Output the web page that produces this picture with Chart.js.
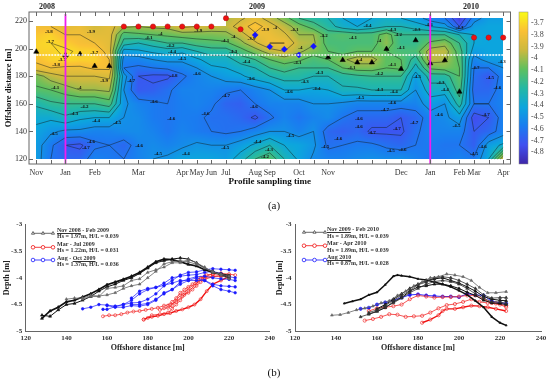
<!DOCTYPE html>
<html>
<head>
<meta charset="utf-8">
<script src="https://cdn.jsdelivr.net/npm/chart.js@4"></script>
<style>
    html, body { margin: 0; padding: 0; background: #fff; }
    body { width: 550px; height: 381px; position: relative; overflow: hidden; font-family: "Liberation Serif", serif; color: #222; }
    canvas { position: absolute; }
    .txt { position: absolute; white-space: nowrap; line-height: 1; }
    .yr { font-weight: bold; font-size: 8px; top: 3px; transform: translateX(-50%); }
    .lg { font-weight: bold; font-size: 6px; color: #333; }
    .panel { font-size: 11px; transform: translateX(-50%); color: #111; }
</style>
</head>
<body>
<canvas id="mapChart" style="left:0;top:0"></canvas>
<canvas id="barChart" style="left:515px;top:0"></canvas>
<canvas id="leftChart" style="left:0;top:210px"></canvas>
<canvas id="rightChart" style="left:275px;top:210px"></canvas>

<div class="txt yr" style="left:47px">2008</div>
<div class="txt yr" style="left:257px">2009</div>
<div class="txt yr" style="left:471px">2010</div>
<div class="txt panel" style="left:274px;top:200px">(a)</div>
<div class="txt panel" style="left:274px;top:367px">(b)</div>

<div class="txt lg" style="left:57px;top:227px"><u>Nov 2008</u> - Feb 2009</div>
<div class="txt lg" style="left:57px;top:233px">Hs = 1.97m, H/L = 0.039</div>
<div class="txt lg" style="left:57px;top:241px">Mar - Jul 2009</div>
<div class="txt lg" style="left:57px;top:247px">Hs = 1.22m, H/L = 0.031</div>
<div class="txt lg" style="left:57px;top:255px">Aug - <u>Oct 2009</u></div>
<div class="txt lg" style="left:57px;top:261px">Hs = 1.37m, H/L = 0.036</div>

<div class="txt lg" style="left:327px;top:226px"><u>Nov 2009</u> - Feb 2010</div>
<div class="txt lg" style="left:327px;top:233px">Hs = 1.89m, H/L = 0.039</div>
<div class="txt lg" style="left:327px;top:240px">Mar - Apr 2010</div>
<div class="txt lg" style="left:327px;top:247px">Hs = 1.89m, H/L = 0.039</div>
<div class="txt lg" style="left:327px;top:254px"><u>Aug 2010</u></div>
<div class="txt lg" style="left:327px;top:260px">Hs = 0.87m, H/L = 0.028</div>

<script>
// tick labels for the sampling axis (one survey per index)
const surveyLabels = ['Nov', '', 'Jan', '', 'Feb', '', '', 'Mar', '', '', 'Apr', 'May', 'Jun', 'Jul', '', 'Aug', 'Sep', '', 'Oct', '', 'Nov', '', '', '', '', 'Dec', '', 'Jan', '', 'Feb', 'Mar', '', 'Apr'];
const offshoreRows = [222, 216, 210, 204, 198, 192, 186, 180, 170, 160, 150, 140, 130, 120];
const contourLevels = [-3.7, -3.8, -3.9, -4, -4.1, -4.2, -4.3, -4.4, -4.5, -4.6, -4.7, -4.8];
const colorbarTicks = [-3.7, -3.8, -3.9, -4, -4.1, -4.2, -4.3, -4.4, -4.5, -4.6, -4.7, -4.8];
const parula = ['#3e26a8', '#4050f0', '#1a7cf0', '#0ca6dd', '#24b8a4', '#5fc05e', '#ccb93e', '#fac035', '#f9fb15'];

// depth, one list per offshore distance
const row222 = [null, null, null, null, null, null, null, null, null, null, null, null, null, -3.97, -3.92, -3.85, -3.95, -4.05, -4.2, -4.25, -4.3, -4.4, -4.45, -4.4, -4.35, -4.4, -4.45, -4.55, -4.6, -4.8, -4.55, -4.45, -4.45];
const row216 = [-3.8, -3.8, -3.85, -3.82, -3.9, -3.85, -3.98, -4, -3.98, -3.97, -3.88, -3.9, -3.93, -3.95, -3.85, -3.75, -3.85, -3.95, -4.05, -4.15, -4.25, -4.35, -4.4, -4.35, -4.3, -4.3, -4.35, -4.4, -4.45, -4.7, -4.45, -4.42, -4.42];
const row210 = [-3.75, -3.72, -3.8, -3.8, -3.85, -3.85, -4.15, -4.12, -4.1, -4.08, -4.05, -4.05, -4.05, -4.03, -3.95, -3.82, -3.82, -3.88, -4, -4, -4.15, -4.12, -4.15, -4.15, -4.05, -4.2, -4.2, -4.2, -4.2, -4.3, -4.4, -4.42, -4.42];
const row204 = [-3.72, -3.7, -3.73, -3.78, -3.8, -3.85, -4.25, -4.3, -4.25, -4.2, -4.2, -4.15, -4.13, -4.12, -4.03, -3.92, -3.8, -3.8, -3.95, -3.98, -4.15, -4.15, -4.15, -4.15, -4.02, -4.2, -4.2, -4.08, -4.03, -4.2, -4.4, -4.42, -4.42];
const row198 = [-3.72, -3.72, -3.68, -3.72, -3.72, -3.85, -4.45, -4.42, -4.38, -4.35, -4.38, -4.3, -4.25, -4.25, -4.15, -4.05, -3.95, -3.9, -3.98, -4.05, -4.1, -4.15, -4.1, -4.1, -4.1, -4.15, -4.15, -3.95, -3.95, -4.15, -4.45, -4.42, -4.42];
const row192 = [-3.78, -3.72, -3.7, -3.72, -3.72, -3.8, -4.55, -4.55, -4.5, -4.47, -4.48, -4.42, -4.35, -4.35, -4.25, -4.2, -4.1, -4.05, -4.08, -4.15, -4.1, -4.02, -3.95, -3.95, -4.1, -4.1, -4.25, -3.95, -3.98, -4.12, -4.55, -4.45, -4.45];
const row186 = [-3.83, -3.8, -3.82, -3.82, -3.78, -3.78, -4.6, -4.62, -4.6, -4.58, -4.55, -4.5, -4.42, -4.4, -4.35, -4.3, -4.2, -4.15, -4.2, -4.2, -4.2, -4.1, -4.05, -4.05, -4.1, -4.08, -4.35, -4.08, -4.05, -4.1, -4.6, -4.6, -4.5];
const row180 = [-4.05, -3.95, -3.9, -3.9, -3.9, -3.88, -4.45, -4.7, -4.72, -4.72, -4.62, -4.55, -4.5, -4.45, -4.42, -4.35, -4.3, -4.25, -4.25, -4.3, -4.3, -4.25, -4.22, -4.2, -4.2, -4.2, -4.45, -4.25, -4.25, -4.1, -4.62, -4.7, -4.55];
const row170 = [-4.12, -4.1, -4.05, -4, -4, -3.98, -4.5, -4.7, -4.68, -4.62, -4.55, -4.55, -4.55, -4.58, -4.6, -4.55, -4.5, -4.4, -4.4, -4.42, -4.4, -4.32, -4.32, -4.3, -4.3, -4.3, -4.5, -4.35, -4.35, -4.15, -4.65, -4.65, -4.55];
const row160 = [-4.28, -4.22, -4.2, -4.2, -4.2, -4.15, -4.48, -4.55, -4.58, -4.6, -4.57, -4.55, -4.58, -4.66, -4.68, -4.6, -4.55, -4.55, -4.55, -4.5, -4.5, -4.52, -4.55, -4.55, -4.55, -4.55, -4.55, -4.45, -4.5, -4.25, -4.6, -4.6, -4.55];
const row150 = [-4.38, -4.38, -4.32, -4.38, -4.4, -4.4, -4.5, -4.52, -4.58, -4.6, -4.57, -4.58, -4.62, -4.62, -4.65, -4.72, -4.62, -4.55, -4.6, -4.55, -4.52, -4.6, -4.65, -4.65, -4.65, -4.7, -4.65, -4.55, -4.52, -4.45, -4.75, -4.7, -4.55];
const row140 = [-4.42, -4.48, -4.52, -4.52, -4.55, -4.55, -4.52, -4.52, -4.55, -4.6, -4.55, -4.58, -4.6, -4.62, -4.6, -4.55, -4.5, -4.5, -4.55, -4.5, -4.65, -4.68, -4.65, -4.72, -4.72, -4.72, -4.62, -4.55, -4.55, -4.55, -4.7, -4.65, -4.55];
const row130 = [-4.45, -4.58, -4.7, -4.72, -4.62, -4.6, -4.65, -4.55, -4.52, -4.55, -4.52, -4.48, -4.5, -4.5, -4.45, -4.38, -4.3, -4.4, -4.42, -4.48, -4.62, -4.6, -4.58, -4.58, -4.62, -4.65, -4.6, -4.58, -4.6, -4.6, -4.68, -4.45, -4.38];
const row120 = [-4.45, -4.6, -4.65, -4.65, -4.55, -4.58, -4.6, -4.55, -4.5, -4.48, -4.42, -4.42, -4.42, -4.45, -4.35, -4.2, -4.12, -4.3, -4.42, -4.52, -4.55, -4.55, -4.52, -4.5, -4.52, -4.5, -4.55, -4.6, -4.58, -4.55, -4.58, -4.4, -3.9];
const depthGrid = [row222, row216, row210, row204, row198, row192, row186, row180, row170, row160, row150, row140, row130, row120];

// contour labels [survey index, offshore distance, text]
const contourLabels = [
    [0.86, 212, '-3.8'], [0.95, 205, '-3.7'], [3.75, 212, '-3.9'], [1.77, 192, '-3.7'], [1.36, 188.6, '-3.8'], [3.97, 197, '-3.7'],
    [4.65, 176.7, '-3.9'], [1.3, 172, '-4.1'], [2.95, 172, '-4'], [3.3, 158, '-4.2'], [2.6, 153, '-4.3'], [4.1, 148, '-4.4'],
    [5.55, 146, '-4.5'], [1.2, 138, '-4.5'], [3.75, 132.5, '-4.6'], [3.4, 128, '-4.7'], [7.05, 130, '-4.6'], [8.35, 123.5, '-4.5'],
    [10.25, 124, '-4.4'], [12.95, 128, '-4.5'], [15.15, 132.5, '-4.4'], [15.95, 126.5, '-4.3'], [15.68, 121.7, '-4.2'], [11.6, 152.5, '-4.6'],
    [8.06, 161.5, '-4.6'], [9.25, 149.5, '-4.6'], [13, 166, '-4.7'], [11, 182, '-4.6'], [6.5, 176.5, '-4.7'], [9.4, 180, '-4.8'],
    [10, 192.5, '-4.5'], [7.7, 208, '-4.1'], [8.5, 211, '-4'], [9.2, 202, '-4.2'], [9.3, 197.5, '-4.4'], [11.1, 213, '-3.9'],
    [12.95, 206, '-4.1'], [13.5, 197.5, '-4.3'], [14.4, 190.5, '-4.4'], [14.7, 178, '-4.6'], [14.9, 158, '-4.6'], [14.75, 207, '-3.9'],
    [13.5, 208.6, '-4'], [15.7, 214, '-3.9'], [16.35, 215, '-4'], [17.7, 214, '-4.1'], [19.7, 209, '-4.2'], [21.7, 207.6, '-4.1'],
    [18.1, 200.6, '-4'], [17.9, 190, '-4.1'], [19.4, 182.5, '-4.3'], [18.4, 176, '-4.3'], [19.2, 170.7, '-4.4'], [17.3, 169, '-4.6'],
    [21.6, 186, '-4.1'], [22.7, 216.6, '-4.4'], [24.4, 214, '-4.3'], [24.8, 210, '-4.2'], [26.06, 214, '-4.3'], [26.9, 217, '-4.6'],
    [29, 215, '-4.3'], [23.5, 206, '-4'], [25, 201, '-4.1'], [22.2, 192, '-4'], [24.4, 188, '-4.1'], [23.5, 181.5, '-4.2'],
    [22.2, 164.7, '-4.5'], [23.5, 170.5, '-4.3'], [24.5, 169, '-4.4'], [26.1, 179.5, '-4.5'], [24.4, 160.5, '-4.6'], [23.9, 156, '-4.7'],
    [22.1, 149, '-4.6'], [22.1, 143.4, '-4.6'], [23, 139, '-4.7'], [24.7, 142, '-4.7'], [17.4, 136.7, '-4.5'], [20.7, 135, '-4.6'],
    [19.8, 129, '-4.5'], [24.3, 125.7, '-4.5'], [25.1, 126.5, '-4.6'], [25.9, 146, '-4.7'], [27.6, 152, '-4.6'], [28.8, 144, '-4.5'],
    [27.7, 175, '-4.3'], [28, 170, '-4.4'], [31.1, 178.7, '-4.5'], [31.6, 171.5, '-4.6'], [30.1, 186, '-4.7'], [30.8, 152, '-4.7'],
    [31.9, 190.5, '-4.3'], [30.6, 128.7, '-4.6'], [30, 124, '-4.5']
];

// survey markers on the map
const redSurveys = [[6, 216], [7, 216], [8, 216], [9, 216], [10, 216], [11, 216], [12, 216], [13, 222], [14, 214], [30, 208], [31, 208], [32, 208]];
const blackSurveys = [[0, 197.7], [2, 195.4], [3, 196], [4, 187.4], [5, 187.4], [20, 193.7], [21, 191.7], [22, 190], [23, 190], [24, 199.7], [25, 185.2], [26, 206], [27, 189.3], [28, 191.5], [29, 168.8]];
const blueSurveys = [[15, 209.9], [16, 201.4], [17, 199.5], [18, 195.4], [19, 201.7]];
const magentaSurveys = [2, 27];
const whiteLineDistance = 195.4;

// profiles, left panel
const winterA = [[128, -4.76], [132, -4.62], [136, -4.55], [140, -4.45], [144, -4.42], [148, -4.36], [152, -4.3], [156, -4.22], [160, -4.13], [164, -4.08], [168, -4.03], [172, -3.97], [176, -3.9], [180, -3.8], [184, -3.7], [188, -3.65], [192, -3.66], [196, -3.7], [200, -3.75], [204, -3.78], [208, -3.85], [212, -3.9], [216, -3.93], [220, -3.96]];
const winterB = [[128, -4.7], [132, -4.72], [136, -4.6], [140, -4.5], [144, -4.48], [148, -4.42], [152, -4.35], [156, -4.25], [160, -4.17], [164, -4.12], [168, -4.05], [172, -4], [176, -3.92], [180, -3.82], [184, -3.72], [188, -3.68], [192, -3.65], [196, -3.63], [200, -3.65], [204, -3.72], [208, -3.82], [212, -3.88], [216, -3.95], [220, -4]];
const winterC = [[140, -4.4], [144, -4.38], [148, -4.38], [152, -4.33], [156, -4.34], [160, -4.32], [164, -4.28], [168, -4.2], [172, -4.15], [176, -4.12], [180, -4], [184, -3.88], [188, -3.74], [192, -3.7], [196, -3.68], [200, -3.7], [204, -3.75], [208, -3.82], [212, -3.88], [216, -3.95], [220, -4.02]];
const winterD = [[148, -4.4], [152, -4.35], [156, -4.35], [160, -4.2], [164, -4.18], [168, -4.15], [172, -4.05], [176, -4.02], [180, -3.9], [184, -3.85], [188, -3.8], [192, -3.72], [196, -3.72], [200, -3.66], [204, -3.72], [208, -3.8], [212, -3.9], [216, -3.93], [220, -3.97]];
const autumnE = [[148, -4.58], [152, -4.55], [156, -4.5], [160, -4.51], [164, -4.53], [168, -4.5], [172, -4.47], [176, -4.46], [180, -4.4], [184, -4.3], [188, -4.15], [192, -4.05], [196, -3.95], [200, -3.9], [204, -3.89], [208, -3.85], [212, -3.83], [216, -3.84], [220, -3.85], [223, -3.86]];
const autumnF = [[158, -4.59], [160, -4.59], [164, -4.54], [168, -4.5], [172, -4.42], [176, -4.3], [180, -4.22], [184, -4.18], [188, -4.1], [192, -4], [196, -3.97], [200, -3.95], [204, -3.94], [208, -3.9], [212, -3.88], [216, -3.92], [220, -3.98], [223, -4]];
const autumnG = [[160, -4.52], [164, -4.55], [168, -4.55], [172, -4.52], [176, -4.53], [180, -4.5], [184, -4.42], [188, -4.28], [192, -4.22], [196, -4.08], [200, -4.02], [204, -3.98], [208, -3.97], [212, -4], [216, -4.02], [220, -4.03], [223, -4.05]];
const autumnH = [[172, -4.38], [176, -4.25], [180, -4.2], [184, -4.18], [188, -4.14], [192, -4.1], [196, -4.05], [200, -4.05], [204, -4.05], [208, -4.05], [212, -4.12], [216, -4.15], [220, -4.16], [223, -4.17]];
const autumnI = [[172, -4.5], [176, -4.5], [180, -4.48], [184, -4.4], [188, -4.3], [192, -4.22], [196, -4.12], [200, -4.05], [204, -4], [208, -4.05], [212, -4.15], [216, -4.22], [220, -4.25], [223, -4.28]];
const springJ = [[158, -4.72], [161, -4.7], [164, -4.7], [167, -4.68], [170, -4.65], [173, -4.63], [176, -4.62], [179, -4.6], [182, -4.58], [185, -4.56], [188, -4.52], [191, -4.5], [194, -4.45], [197, -4.35], [200, -4.25], [203, -4.15], [206, -4.02], [209, -3.95], [212, -3.93], [216, -3.92], [220, -3.93], [223, -3.95]];
const springK = [[178, -4.78], [180, -4.75], [182, -4.73], [185, -4.71], [188, -4.68], [191, -4.66], [194, -4.62], [197, -4.59], [200, -4.55], [203, -4.5], [206, -4.4], [209, -4.25], [212, -4.12], [216, -4.05], [220, -3.98]];
const springL = [[178, -4.78], [182, -4.7], [186, -4.68], [190, -4.65], [192, -4.58], [194, -4.5], [196, -4.42], [198, -4.32], [200, -4.28], [202, -4.22], [204, -4.15], [206, -4.08], [208, -4.03], [212, -3.98], [216, -3.95], [220, -3.96]];
const springM = [[190, -4.52], [192, -4.45], [194, -4.38], [196, -4.28], [198, -4.22], [200, -4.17], [202, -4.12], [204, -4.05], [206, -4], [208, -3.97], [212, -3.93], [216, -3.92]];
const springN = [[186, -4.6], [188, -4.57], [190, -4.56], [192, -4.52], [194, -4.42], [196, -4.33], [198, -4.28], [200, -4.2], [204, -4.1], [208, -4], [212, -3.97], [216, -3.98], [220, -3.97]];

// profiles, right panel
const winterO = [[144, -4.48], [148, -4.44], [152, -4.4], [156, -4.32], [160, -4.27], [164, -4.13], [168, -3.97], [170, -3.95], [172, -3.96], [176, -3.98], [180, -4.02], [184, -4.04], [188, -4.08], [192, -4.12], [196, -4.17], [200, -4.24], [204, -4.32], [208, -4.43], [212, -4.55], [216, -4.73], [220, -4.84], [223, -4.89]];
const winterP = [[138, -4.7], [142, -4.69], [146, -4.65], [150, -4.6], [154, -4.57], [158, -4.53], [162, -4.47], [166, -4.43], [170, -4.33], [174, -4.25], [178, -4.15], [182, -4.08], [186, -4], [190, -3.98], [194, -3.93], [198, -3.95], [202, -3.98], [206, -4.05], [210, -4.18], [214, -4.28], [218, -4.28], [223, -4.26]];
const winterQ = [[152, -4.73], [156, -4.68], [160, -4.62], [164, -4.55], [168, -4.47], [172, -4.38], [176, -4.28], [180, -4.2], [184, -4.12], [188, -4.07], [192, -4.05], [196, -4.07], [200, -4.12], [204, -4.2], [208, -4.3], [212, -4.38], [216, -4.45], [220, -4.45], [223, -4.48]];
const winterR = [[156, -4.65], [160, -4.6], [164, -4.52], [168, -4.42], [172, -4.33], [176, -4.24], [180, -4.13], [184, -4.08], [188, -4], [192, -3.98], [196, -4], [200, -4.05], [204, -4.12], [208, -4.2], [212, -4.32], [216, -4.38], [220, -4.37], [223, -4.37]];
const winterS = [[156, -4.68], [160, -4.63], [164, -4.56], [168, -4.45], [172, -4.37], [176, -4.25], [180, -4.17], [184, -4.15], [188, -4.12], [192, -4.12], [196, -4.15], [200, -4.2], [204, -4.27], [208, -4.33], [212, -4.42], [216, -4.47], [220, -4.48], [223, -4.5]];
const winterT = [[160, -4.58], [164, -4.5], [168, -4.4], [172, -4.3], [176, -4.2], [180, -4.12], [184, -4.05], [188, -4.02], [192, -4], [196, -4.05], [200, -4.1], [204, -4.17], [208, -4.25], [212, -4.35], [216, -4.4], [220, -4.42], [223, -4.43]];
const springV = [[154, -4.8], [158, -4.77], [162, -4.73], [166, -4.68], [170, -4.69], [174, -4.73], [178, -4.72], [182, -4.71], [186, -4.65], [190, -4.57], [194, -4.51], [198, -4.49], [202, -4.45], [206, -4.4], [210, -4.45], [214, -4.47], [218, -4.48], [223, -4.52]];
const springW = [[156, -4.62], [160, -4.57], [164, -4.55], [168, -4.53], [172, -4.5], [176, -4.4], [180, -4.33], [184, -4.35], [188, -4.37], [192, -4.36], [196, -4.36], [200, -4.35], [204, -4.33], [208, -4.33], [212, -4.4], [216, -4.47], [220, -4.5], [223, -4.55]];
const springX = [[182, -4.84], [186, -4.78], [190, -4.7], [192, -4.62], [194, -4.58], [198, -4.58], [202, -4.55], [206, -4.52], [210, -4.53], [214, -4.55], [218, -4.58], [223, -4.62]];
const augustY = [[152, -4.58], [156, -4.56], [160, -4.5], [164, -4.46], [168, -4.42], [172, -4.37], [176, -4.32], [180, -4.31], [184, -4.33], [188, -4.34], [192, -4.35], [196, -4.35], [200, -4.36], [204, -4.3], [208, -4.32], [212, -4.33], [216, -4.44], [220, -4.47], [223, -4.48]];

const serif = "'Liberation Serif', serif";
const BLACK = '#111', GRAY = '#666', RED = '#f01010', BLUE = '#1a1aff';

function toPoints(list) {
    return list.map(p => ({ x: p[0], y: p[1] }));
}

function hexRgb(hex) {
    return [1, 3, 5].map(i => parseInt(hex.substr(i, 2), 16));
}

// value -> parula colour, scaled on the colour bar range
const barMin = -4.9, barMax = -3.606;
function parulaAt(v) {
    const t = Math.max(0, Math.min(1, (v - barMin) / (barMax - barMin))) * (parula.length - 1);
    const i = Math.min(Math.floor(t), parula.length - 2);
    const a = hexRgb(parula[i]), b = hexRgb(parula[i + 1]);
    return a.map((c, k) => Math.round(c + (b[k] - c) * (t - i)));
}

// colour field + contour lines from depthGrid, placed with the chart's scales
const fieldPlugin = {
    id: 'field',
    beforeDatasetsDraw(chart) {
        const { ctx, chartArea, scales } = chart;
        const xs = scales.x, ys = scales.y;
        const w = Math.round(chartArea.right - chartArea.left), h = Math.round(chartArea.bottom - chartArea.top);
        const off = document.createElement('canvas');
        off.width = w; off.height = h;
        const octx = off.getContext('2d');
        const img = octx.createImageData(w, h);

        for (let py = 0; py < h; py++) {
            const yVal = ys.getValueForPixel(chartArea.top + py + 0.5);
            let r = -1;
            for (let k = 0; k < offshoreRows.length - 1; k++) {
                if (yVal <= offshoreRows[k] && yVal >= offshoreRows[k + 1]) { r = k; break; }
            }
            if (r < 0) continue;
            const fy = (offshoreRows[r] - yVal) / (offshoreRows[r] - offshoreRows[r + 1]);
            for (let px = 0; px < w; px++) {
                const xVal = xs.getValueForPixel(chartArea.left + px + 0.5);
                if (xVal < 0 || xVal > 32) continue;
                const c = Math.min(Math.floor(xVal), 31);
                const fx = xVal - c;
                const a = depthGrid[r][c], b = depthGrid[r][c + 1], d = depthGrid[r + 1][c], e = depthGrid[r + 1][c + 1];
                if (a === null || b === null || d === null || e === null) continue;
                const v = (a * (1 - fx) + b * fx) * (1 - fy) + (d * (1 - fx) + e * fx) * fy;
                const rgb = parulaAt(v);
                const o = (py * w + px) * 4;
                img.data[o] = rgb[0]; img.data[o + 1] = rgb[1]; img.data[o + 2] = rgb[2]; img.data[o + 3] = 255;
            }
        }
        octx.putImageData(img, 0, 0);
        ctx.save();
        ctx.filter = 'blur(0.6px)';
        ctx.drawImage(off, chartArea.left, chartArea.top);
        ctx.restore();

        // marching squares over the grid
        ctx.save();
        ctx.strokeStyle = 'rgba(20,30,30,0.8)';
        ctx.lineWidth = 0.6;
        contourLevels.forEach(level => {
            ctx.beginPath();
            for (let r = 0; r < offshoreRows.length - 1; r++) {
                for (let c = 0; c < 32; c++) {
                    const corners = [
                        [c, offshoreRows[r], depthGrid[r][c]],
                        [c + 1, offshoreRows[r], depthGrid[r][c + 1]],
                        [c + 1, offshoreRows[r + 1], depthGrid[r + 1][c + 1]],
                        [c, offshoreRows[r + 1], depthGrid[r + 1][c]]
                    ];
                    if (corners.some(p => p[2] === null)) continue;
                    const hits = [];
                    for (let k = 0; k < 4; k++) {
                        const p = corners[k], q = corners[(k + 1) % 4];
                        if ((p[2] < level) !== (q[2] < level)) {
                            const t = (level - p[2]) / (q[2] - p[2]);
                            hits.push([xs.getPixelForValue(p[0] + (q[0] - p[0]) * t), ys.getPixelForValue(p[1] + (q[1] - p[1]) * t)]);
                        }
                    }
                    for (let k = 0; k + 1 < hits.length; k += 2) {
                        ctx.moveTo(hits[k][0], hits[k][1]);
                        ctx.lineTo(hits[k + 1][0], hits[k + 1][1]);
                    }
                }
            }
            ctx.stroke();
        });

        // contour labels
        ctx.fillStyle = '#111';
        ctx.font = "bold 5px " + serif;
        ctx.textAlign = 'center';
        ctx.textBaseline = 'middle';
        contourLabels.forEach(l => {
            ctx.fillText(l[2], xs.getPixelForValue(l[0]), ys.getPixelForValue(l[1]));
        });
        ctx.restore();
    }
};

// gray frame with inward ticks on all four sides of the map
const framePlugin = {
    id: 'frame',
    afterDraw(chart) {
        const { ctx, chartArea: a, scales } = chart;
        ctx.save();
        ctx.strokeStyle = '#666';
        ctx.lineWidth = 1;
        ctx.strokeRect(a.left, a.top, a.right - a.left, a.bottom - a.top);
        ctx.beginPath();
        scales.x.ticks.forEach(t => {
            const px = Math.round(scales.x.getPixelForValue(t.value)) + 0.5;
            ctx.moveTo(px, a.top); ctx.lineTo(px, a.top + 4);
            ctx.moveTo(px, a.bottom); ctx.lineTo(px, a.bottom - 4);
        });
        scales.y.ticks.forEach(t => {
            const py = Math.round(scales.y.getPixelForValue(t.value)) + 0.5;
            ctx.moveTo(a.left, py); ctx.lineTo(a.left + 4, py);
            ctx.moveTo(a.right, py); ctx.lineTo(a.right - 4, py);
        });
        ctx.stroke();
        ctx.restore();
    }
};

const mapDatasets = [
    ...magentaSurveys.map(s => ({
        data: [{ x: s, y: 116.4 }, { x: s, y: 225 }],
        type: 'line', borderColor: '#f01cf0', borderWidth: 1.8, pointRadius: 0
    })),
    {
        data: [{ x: 0, y: whiteLineDistance }, { x: 32.2, y: whiteLineDistance }],
        type: 'line', borderColor: '#fff', borderWidth: 1.5, borderDash: [2, 1], pointRadius: 0
    },
    { data: toPoints(redSurveys), pointStyle: 'circle', pointRadius: 2.6, backgroundColor: '#ee1111', borderColor: '#a01010', borderWidth: 0.5 },
    { data: toPoints(blackSurveys), pointStyle: 'triangle', pointRadius: 3, backgroundColor: '#000', borderColor: '#000', borderWidth: 0.5 },
    { data: toPoints(blueSurveys), pointStyle: 'rectRot', pointRadius: 3, backgroundColor: '#1414ff', borderColor: '#1414ff', borderWidth: 0.5 }
];

document.getElementById('mapChart').width = 515;
document.getElementById('mapChart').height = 187;
new Chart(document.getElementById('mapChart'), {
    type: 'scatter',
    data: { datasets: mapDatasets },
    plugins: [fieldPlugin, framePlugin],
    options: {
        responsive: false,
        animation: false,
        layout: { padding: { top: 12, right: 1, left: 4, bottom: 0 } },
        plugins: { legend: { display: false }, tooltip: { enabled: false } },
        scales: {
            x: {
                type: 'linear', min: -0.5, max: 32.5,
                afterBuildTicks: axis => { axis.ticks = surveyLabels.map((l, i) => ({ value: i })); },
                grid: { display: false, drawTicks: false },
                border: { display: false },
                ticks: {
                    autoSkip: false, maxRotation: 0, padding: 4, color: '#333',
                    font: { family: serif, size: 8 },
                    callback: v => surveyLabels[v] || ''
                },
                title: { display: true, text: 'Profile sampling time', color: '#111', font: { family: serif, size: 9, weight: 'bold' }, padding: 0 },
                afterFit: axis => { axis.height = 23; }
            },
            y: {
                min: 116.4, max: 226.5,
                afterBuildTicks: axis => { axis.ticks = [120, 140, 160, 180, 200, 220].map(v => ({ value: v })); },
                grid: { display: false, drawTicks: false },
                border: { display: false },
                ticks: { padding: 2, color: '#333', font: { family: serif, size: 8 } },
                title: { display: true, text: 'Offshore distance [m]', color: '#111', font: { family: serif, size: 8.5, weight: 'bold' }, padding: 0 },
                afterFit: axis => { axis.width = 25; }
            }
        }
    }
});

// colour bar next to the map
const barPlugin = {
    id: 'barFill',
    beforeDatasetsDraw(chart) {
        const { ctx, chartArea: a, scales } = chart;
        for (let py = Math.floor(a.top); py < a.bottom; py++) {
            const rgb = parulaAt(scales.y.getValueForPixel(py + 0.5));
            ctx.fillStyle = 'rgb(' + rgb.join(',') + ')';
            ctx.fillRect(a.left, py, a.right - a.left, 1);
        }
        ctx.strokeStyle = '#888';
        ctx.lineWidth = 0.5;
        ctx.strokeRect(a.left, a.top, a.right - a.left, a.bottom - a.top);
    }
};

document.getElementById('barChart').width = 35;
document.getElementById('barChart').height = 185;
new Chart(document.getElementById('barChart'), {
    type: 'bar',
    data: { labels: [''], datasets: [{ data: [null] }] },
    plugins: [barPlugin],
    options: {
        responsive: false,
        animation: false,
        layout: { padding: { top: 12, bottom: 21, left: 4, right: 0 } },
        plugins: { legend: { display: false }, tooltip: { enabled: false } },
        scales: {
            x: { display: false },
            y: {
                position: 'right', min: barMin, max: barMax,
                afterBuildTicks: axis => { axis.ticks = colorbarTicks.map(v => ({ value: v })); },
                grid: { display: false, drawTicks: false },
                border: { display: false },
                ticks: { padding: 3, color: '#444', font: { family: serif, size: 8 }, callback: v => String(v) },
                afterFit: axis => { axis.width = 22; }
            }
        }
    }
});

function profile(points, color, width, style, radius) {
    return {
        data: toPoints(points), borderColor: color, borderWidth: width,
        pointStyle: style, pointRadius: radius,
        pointBackgroundColor: style === 'circle' && color === RED ? 'rgba(255,255,255,0.3)' : color,
        pointBorderColor: color, pointBorderWidth: 0.6, showLine: true, tension: 0
    };
}

// legend line samples on the two profile charts
function legendSamples(rows) {
    return {
        id: 'samples',
        afterDatasetsDraw(chart) {
            const { ctx } = chart;
            rows.forEach(r => {
                ctx.save();
                ctx.strokeStyle = r.color;
                ctx.fillStyle = r.fill;
                ctx.lineWidth = 0.8;
                ctx.beginPath();
                ctx.moveTo(r.x0, r.y); ctx.lineTo(r.x1, r.y);
                ctx.stroke();
                [r.x0, (r.x0 + r.x1) / 2, r.x1].forEach(x => {
                    Chart.helpers.drawPoint(ctx, { pointStyle: r.style, radius: r.radius, rotation: 0, borderWidth: 0.8 }, x, r.y);
                });
                ctx.restore();
            });
        }
    };
}

function profileChart(id, datasets, samples, pad) {
    const el = document.getElementById(id);
    el.width = 275;
    el.height = 143;
    new Chart(el, {
        type: 'scatter',
        data: { datasets },
        plugins: [legendSamples(samples)],
        options: {
            responsive: false,
            animation: false,
            layout: { padding: { top: 14.3, right: pad.right, left: pad.left, bottom: 0 } },
            plugins: { legend: { display: false }, tooltip: { enabled: false } },
            scales: {
                x: {
                    type: 'linear', min: 120, max: 240,
                    grid: { display: false, tickLength: 2.5, tickColor: '#666', drawOnChartArea: false },
                    border: { color: '#666', width: 1 },
                    ticks: {
                        stepSize: 10, autoSkip: false, maxRotation: 0, padding: 0, color: '#333',
                        font: { family: serif, size: 7, weight: 'bold' },
                        callback: v => (v % 20 === 0 ? String(v) : '')
                    },
                    title: { display: true, text: 'Offshore distance [m]', color: '#222', font: { family: serif, size: 8, weight: 'bold' }, padding: 0 },
                    afterFit: axis => { axis.height = 143 - 121.3; }
                },
                y: {
                    min: -5, max: -3,
                    grid: { display: false, tickLength: 2.5, tickColor: '#666', drawOnChartArea: false },
                    border: { color: '#666', width: 1 },
                    ticks: { stepSize: 0.5, padding: 1, color: '#333', font: { family: serif, size: 7, weight: 'bold' }, callback: v => String(v) },
                    title: { display: true, text: 'Depth [m]', color: '#222', font: { family: serif, size: 8, weight: 'bold' }, padding: 0 },
                    afterFit: axis => { axis.width = pad.axis; }
                }
            }
        }
    });
}

profileChart('leftChart', [
    profile(winterC, GRAY, 0.8, 'triangle', 1.6),
    profile(winterD, GRAY, 0.8, 'triangle', 1.6),
    profile(winterB, BLACK, 1, 'triangle', 1.7),
    profile(winterA, BLACK, 1.7, 'triangle', 1.7),
    profile(autumnE, BLUE, 0.7, 'circle', 1.3),
    profile(autumnF, BLUE, 0.7, 'circle', 1.3),
    profile(autumnG, BLUE, 0.7, 'circle', 1.3),
    profile(autumnH, BLUE, 0.7, 'circle', 1.3),
    profile(autumnI, BLUE, 0.7, 'circle', 1.3),
    profile(springJ, RED, 0.7, 'circle', 1.5),
    profile(springL, RED, 0.7, 'circle', 1.5),
    profile(springM, RED, 0.7, 'circle', 1.5),
    profile(springN, RED, 0.7, 'circle', 1.5),
    profile(springK, RED, 1.4, 'circle', 1.5)
], [
    { x0: 33, x1: 53, y: 23.3, color: '#444', fill: '#fff', style: 'triangle', radius: 1.8 },
    { x0: 33, x1: 53, y: 37.3, color: RED, fill: '#fff', style: 'circle', radius: 1.8 },
    { x0: 33, x1: 53, y: 50, color: BLUE, fill: '#fff', style: 'circle', radius: 1.8 }
], { left: 2, axis: 23.7, right: 3 });

profileChart('rightChart', [
    profile(winterP, GRAY, 0.8, 'triangle', 1.6),
    profile(winterQ, '#333', 0.8, 'triangle', 1.7),
    profile(winterR, '#333', 0.8, 'triangle', 1.7),
    profile(winterS, BLACK, 1, 'triangle', 1.7),
    profile(winterT, BLACK, 1, 'triangle', 1.7),
    profile(winterO, BLACK, 1.5, 'triangle', 1.2),
    profile(springV, RED, 0.7, 'circle', 1.6),
    profile(springW, RED, 0.7, 'circle', 1.6),
    profile(augustY, BLUE, 0.9, 'circle', 1.6),
    profile(springX, RED, 1.4, 'circle', 1.6)
], [
    { x0: 29, x1: 50, y: 22.3, color: '#444', fill: '#fff', style: 'triangle', radius: 1.8 },
    { x0: 29, x1: 50, y: 35.7, color: RED, fill: '#fff', style: 'circle', radius: 1.8 },
    { x0: 29, x1: 50, y: 50, color: BLUE, fill: '#fff', style: 'circle', radius: 1.8 }
], { left: 0, axis: 20, right: 9 });
</script>
</body>
</html>
